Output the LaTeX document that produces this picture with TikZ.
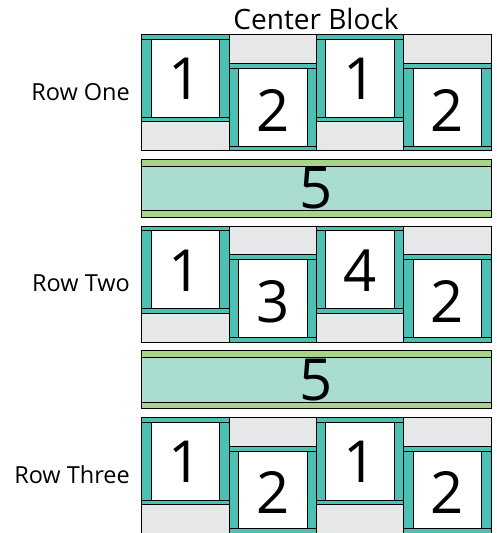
\documentclass[tikz,border=0pt]{standalone}
\usepackage{fontspec}
\setmainfont{Open Sans}
\usepackage{tikz}
\usetikzlibrary{positioning}
\tikzstyle{blockPlan} = [x = 1pt, y = -1pt]
\definecolor{frameColor}{HTML}{4CC0B2}
\definecolor{sashColor}{HTML}{A9DDD0}
\definecolor{stripColor}{HTML}{A8D48C}
\definecolor{grayColor}{HTML}{E6E7E8}
\tikzstyle{frameStyle} = [draw=black, fill=frameColor, line width=.9pt]
\tikzstyle{squareStyle} = [draw=black, fill=white, line width=.9pt]
\tikzstyle{grayStyle} = [draw=black, fill=grayColor, line width=.9pt]
\tikzstyle{sashStyle} = [draw=black, fill=sashColor, line width=.9pt]
\tikzstyle{stripStyle} = [draw=black, fill=stripColor, line width=.9pt]
\tikzstyle{digitText} = [font=\fontsize{58}{58}\selectfont, midway, inner sep=0pt]
\tikzstyle{labelText} = [font=\fontsize{23.5}{23.5}\selectfont, inner sep=0pt]
\tikzstyle{titleText} = [font=\fontsize{28}{28}\selectfont, inner sep=0pt]
\newcommand{\unitW}{87.3}
\newcommand{\frameH}{87.3}
\newcommand{\grayH}{28.9}
\newcommand{\stripH}{4.7}
\newcommand{\sideW}{9.3}
\newcommand{\sashW}{349.3}
\newcommand{\sashH}{58}
\newcommand{\sashStrip}{6.7}
\newcommand{\upperUnit}[4]{
  \filldraw [frameStyle] (#2, #3) rectangle + (\unitW, \frameH);
  \draw [line width=.9pt] (#2, #3 + \stripH) -- + (\unitW, 0);
  \draw [line width=.9pt] (#2, #3 + \frameH - \stripH) -- + (\unitW, 0);
  \filldraw [squareStyle] (#2 + \sideW, #3 + \stripH) rectangle + (\unitW - 2 * \sideW, \frameH - 2 * \stripH) node [digitText, yshift=-1pt] (#1) {#4};
  \filldraw [grayStyle] (#2, #3 + \frameH) rectangle + (\unitW, \grayH);
}
\newcommand{\lowerUnit}[4]{
  \filldraw [grayStyle] (#2, #3) rectangle + (\unitW, \grayH);
  \filldraw [frameStyle] (#2, #3 + \grayH) rectangle + (\unitW, \frameH);
  \draw [line width=.9pt] (#2, #3 + \grayH + \stripH) -- + (\unitW, 0);
  \draw [line width=.9pt] (#2, #3 + \grayH + \frameH - \stripH) -- + (\unitW, 0);
  \filldraw [squareStyle] (#2 + \sideW, #3 + \grayH + \stripH) rectangle + (\unitW - 2 * \sideW, \frameH - 2 * \stripH) node [digitText, yshift=-3pt] (#1) {#4};
}
\newcommand{\sashBand}[3]{
  \filldraw [sashStyle] (141.7, #2) rectangle + (\sashW, \sashH) node [digitText] (#1) {#3};
  \filldraw [stripStyle] (141.7, #2) rectangle + (\sashW, \sashStrip);
  \filldraw [stripStyle] (141.7, #2 + \sashH - \sashStrip) rectangle + (\sashW, \sashStrip);
}
\newcommand{\unitRow}[9]{
  \upperUnit{#1a}{141.7}{#2}{#3}\lowerUnit{#1b}{229}{#2}{#4}\upperUnit{#1c}{316.3}{#2}{#5}\lowerUnit{#1d}{403.7}{#2}{#6}
  \node [labelText, anchor=east] (#1Label) at (130, #2 + 57.5) {#7};
}

\begin{document}
\begin{tikzpicture}[blockPlan]
  \useasboundingbox (0, 0) rectangle (496, 533);
  \node [titleText] (centerBlock) at (316, 18.5) {Center Block};
  \unitRow{rowOne}{34.5}{1}{2}{1}{2}{Row One}{}{}
  \sashBand{sashOne}{159.3}{5}
  \unitRow{rowTwo}{226}{1}{3}{4}{2}{Row Two}{}{}
  \sashBand{sashTwo}{350.7}{5}
  \unitRow{rowThree}{417.4}{1}{2}{1}{2}{Row Three}{}{}
\end{tikzpicture}
\end{document}
